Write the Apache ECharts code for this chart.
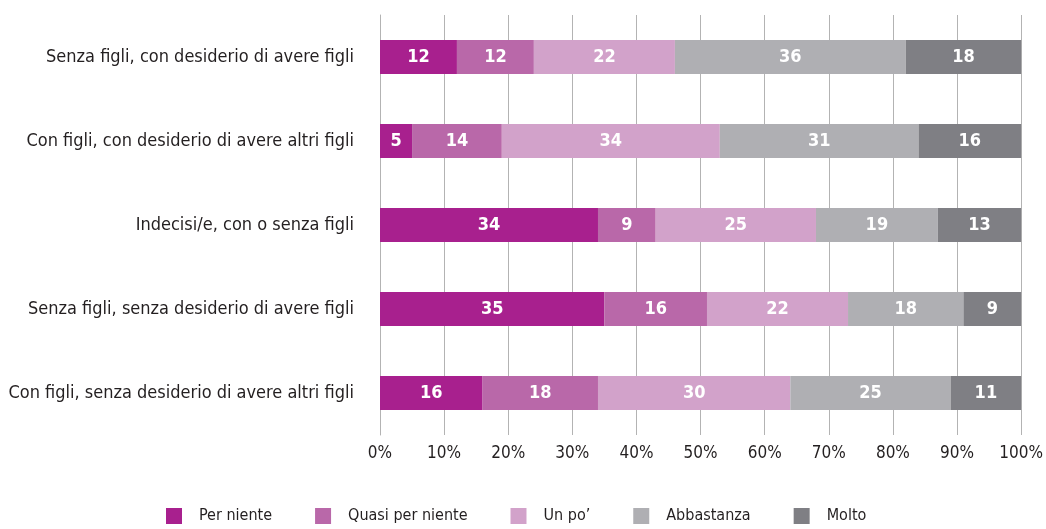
<!DOCTYPE html>
<html>
<head>
<meta charset="utf-8">
<script src="https://cdn.jsdelivr.net/npm/echarts@6/dist/echarts.min.js"></script>
<style>
html,body{margin:0;padding:0;background:#fff;}
#chart{width:1046px;height:529px;}
</style>
</head>
<body>
<div id="chart"></div>
<script>
const categories = [
  "Senza figli, con desiderio di avere figli",
  "Con figli, con desiderio di avere altri figli",
  "Indecisi/e, con o senza figli",
  "Senza figli, senza desiderio di avere figli",
  "Con figli, senza desiderio di avere altri figli"
];
const seriesNames = ["Per niente", "Quasi per niente", "Un po\u2019", "Abbastanza", "Molto"];
const perNiente = [12, 5, 34, 35, 16];
const quasiPerNiente = [12, 14, 9, 16, 18];
const unPo = [22, 34, 25, 22, 30];
const abbastanza = [36, 31, 19, 18, 25];
const molto = [18, 16, 13, 9, 11];
const colors = ["#A8208E", "#B968A9", "#D2A2CA", "#AFAFB3", "#7F7F84"];

const FONT = '"Liberation Sans Narrow", "DejaVu Sans Condensed", "Noto Sans", sans-serif';
const values = [perNiente, quasiPerNiente, unPo, abbastanza, molto];

const chart = echarts.init(document.getElementById('chart'), null, {renderer: 'canvas'});
chart.setOption({
  animation: false,
  textStyle: {fontFamily: FONT},
  grid: {left: 380, right: 22, top: 15, height: 420, containLabel: false},
  xAxis: {
    type: 'value', min: 0, max: 100, interval: 10,
    axisLine: {show: false}, axisTick: {show: false},
    splitLine: {show: true, lineStyle: {color: '#b3b3b3', width: 1}},
    axisLabel: {formatter: '{value}%', color: '#231f20', fontSize: 17, fontFamily: FONT, margin: 10}
  },
  yAxis: {
    type: 'category', data: categories, inverse: true,
    axisLine: {show: true, lineStyle: {color: '#b3b3b3', width: 1}},
    axisTick: {show: false},
    axisLabel: {color: '#231f20', fontSize: 18, fontFamily: FONT, margin: 26}
  },
  legend: {
    bottom: 0, left: 161,
    itemWidth: 16, itemHeight: 16, itemGap: 43,
    icon: 'rect',
    textStyle: {color: '#231f20', fontSize: 16, fontFamily: FONT, padding: [0, 0, 0, 12]},
    data: seriesNames
  },
  series: seriesNames.map((name, i) => ({
    name: name, type: 'bar', stack: 'total',
    data: values[i], barWidth: 34,
    itemStyle: {color: colors[i]},
    label: {show: true, position: 'inside', color: '#fff', fontWeight: 'bold', fontSize: 18, fontFamily: FONT}
  }))
});
</script>
</body>
</html>
